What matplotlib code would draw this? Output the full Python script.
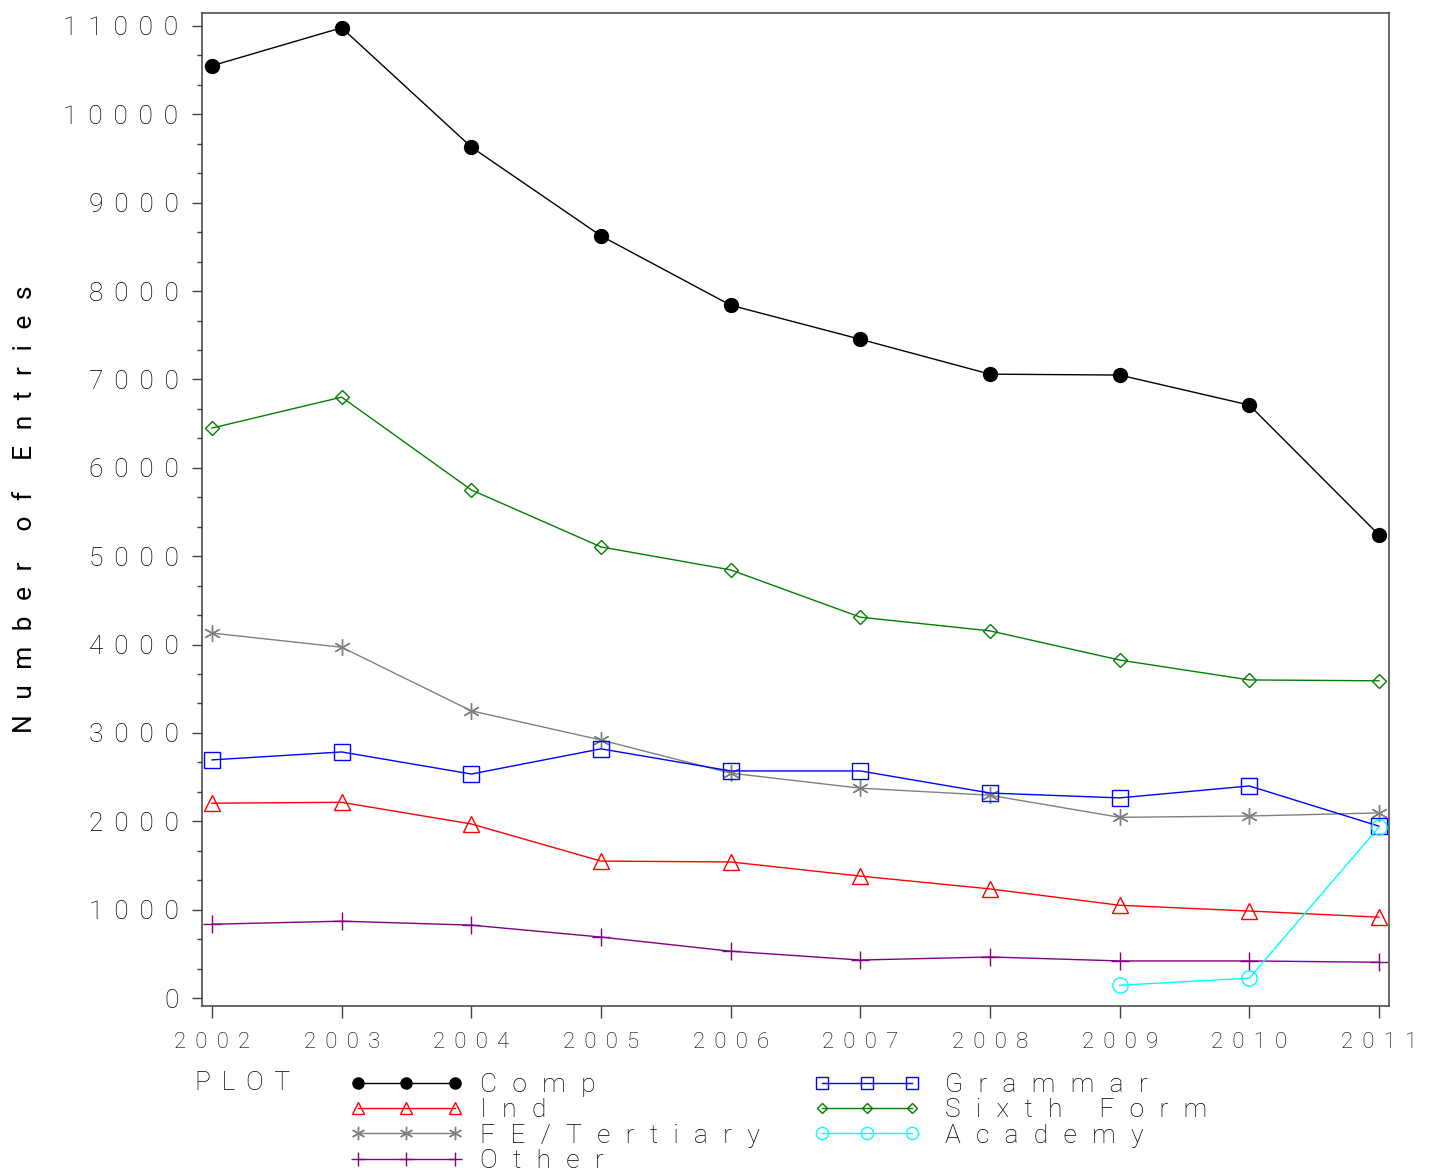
import matplotlib
matplotlib.use("Agg")
import matplotlib.pyplot as plt
from matplotlib.ticker import MultipleLocator

# values
years = [2002, 2003, 2004, 2005, 2006, 2007, 2008, 2009, 2010, 2011]
comp = [10550, 10980, 9630, 8625, 7840, 7455, 7060, 7050, 6710, 5240]
ind = [2205, 2215, 1970, 1550, 1540, 1380, 1235, 1050, 985, 915]
fe_tertiary = [4130, 3970, 3250, 2920, 2545, 2375, 2295, 2045, 2060, 2095]
other = [835, 870, 825, 690, 530, 430, 465, 420, 420, 405]
grammar = [2695, 2785, 2535, 2820, 2570, 2570, 2320, 2265, 2400, 1945]
sixth_form = [6450, 6800, 5750, 5105, 4845, 4310, 4155, 3825, 3600, 3590]
academy_years = [2009, 2010, 2011]
academy = [145, 225, 1935]

y_ticks = list(range(0, 11001, 1000))

plt.rcParams['font.family'] = ['Roboto', 'DejaVu Sans']
plt.rcParams['font.weight'] = 'light'

GAP = ' \u2006'       # tick labels
WIDE_GAP = ' \u2004'  # axis label and legend


def spaced(s, gap=GAP):
    """SAS style letter spacing"""
    return gap.join(s)


fig = plt.figure(figsize=(14.29, 11.74), dpi=100)
ax = fig.add_axes([202 / 1429, 1 - 1006 / 1174, (1389 - 202) / 1429, (1006 - 13) / 1174])

asterisk = (6, 2, 0)
series = [
    (years, comp, 'Comp', 'black', dict(marker='o', markersize=10, markerfacecolor='black')),
    (years, ind, 'Ind', '#ff0000', dict(marker='^', markersize=11, markerfacecolor='none')),
    (years, fe_tertiary, 'FE/Tertiary', '#808080', dict(marker=asterisk, markersize=12)),
    (years, other, 'Other', '#800080', dict(marker='+', markersize=13)),
    (years, grammar, 'Grammar', '#0000ff', dict(marker='s', markersize=11, markerfacecolor='none')),
    (years, sixth_form, 'Sixth Form', '#008000', dict(marker='D', markersize=7, markerfacecolor='none')),
    (academy_years, academy, 'Academy', '#00ffff', dict(marker='o', markersize=11, markerfacecolor='none')),
]

handles = []
for xs, ys, name, color, style in series:
    line, = ax.plot(xs, ys, color=color, linewidth=1.0, markeredgecolor=color,
                    markeredgewidth=1.0, label=spaced(name, WIDE_GAP), **style)
    handles.append(line)

ax.set_xlim(2001.923, 2011.077)
ax.set_ylim(-90, 11147)
ax.set_xticks(years)
ax.set_xticklabels([spaced(str(y)) for y in years], fontsize=16)
ax.set_yticks(y_ticks)
ax.set_yticklabels([spaced(str(v)) for v in y_ticks], fontsize=19)
ax.yaxis.set_minor_locator(MultipleLocator(1000 / 3))

axis_color = '#404040'
for side in ax.spines.values():
    side.set_color(axis_color)
    side.set_linewidth(1.1)
ax.tick_params(axis='y', which='major', length=7, width=1.0, color=axis_color, pad=10)
ax.tick_params(axis='y', which='minor', length=3.5, width=1.0, color=axis_color)
ax.tick_params(axis='x', which='major', length=8.5, width=1.0, color=axis_color, pad=10)

word_gap = WIDE_GAP * 2
ax.set_ylabel(word_gap.join(spaced(w, WIDE_GAP) for w in ['Number', 'of', 'Entries']),
              fontsize=19)
ax.yaxis.set_label_coords(-0.139, 0.5)

# legend, SAS style: "PLOT" label plus two columns of entries
fig.text(195 / 1429, 1 - 1083 / 1174, spaced('PLOT'), fontsize=19, va='center', ha='left')
leg_kw = dict(frameon=False, fontsize=19, numpoints=3, labelspacing=0.05, markerscale=0.8,
              borderpad=0, borderaxespad=0, loc='upper left')
leg1 = fig.legend(handles[:4], [h.get_label() for h in handles[:4]],
                  handlelength=4.27, handletextpad=0.64,
                  bbox_to_anchor=(350 / 1429, 1 - 1073 / 1174), **leg_kw)
leg2 = fig.legend(handles[4:], [h.get_label() for h in handles[4:]],
                  handlelength=4.0, handletextpad=0.95,
                  bbox_to_anchor=(814 / 1429, 1 - 1073 / 1174), **leg_kw)

fig.savefig('out.png', dpi=100)
